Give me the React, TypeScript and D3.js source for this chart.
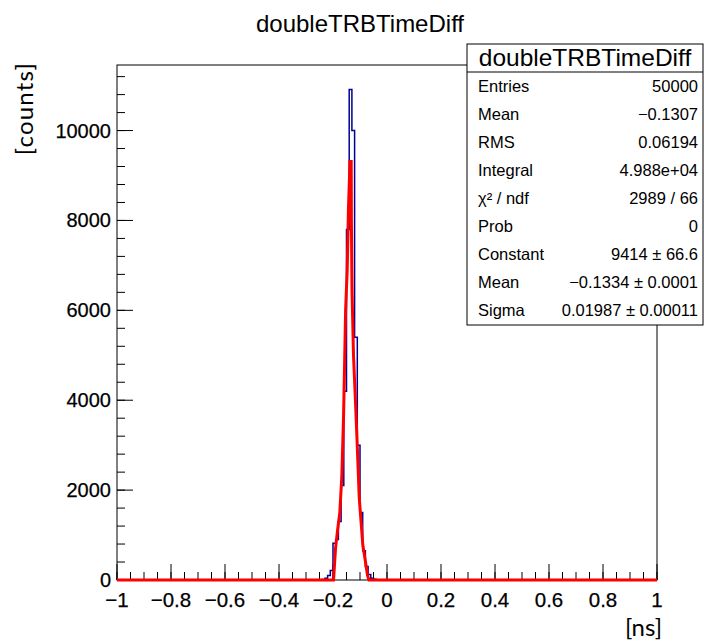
import React from "react";
import * as d3 from "d3";

// ---- data ----
const binLowEdges = [-0.25, -0.24, -0.23, -0.22, -0.21, -0.2, -0.19, -0.18, -0.17, -0.16, -0.15, -0.14, -0.13, -0.12, -0.11, -0.1, -0.09, -0.08, -0.07, -0.06, -0.05, -0.04];
const binCounts = [3, 10, 40, 100, 210, 820, 900, 1300, 2100, 4200, 7800, 10913, 10000, 5400, 3000, 1500, 650, 300, 120, 40, 15, 3];

const fitX = [-1, -0.205, -0.198, -0.1907, -0.1833, -0.1748, -0.1674, -0.1611, -0.1574, -0.1533, -0.1474, -0.1426, -0.137, -0.1326, -0.1319, -0.1296, -0.1241, -0.1156, -0.1119, -0.103, -0.0896, -0.0796, -0.0722, -0.0667, 1];
const fitY = [0, 0, 0, 700, 1100, 1500, 2300, 3600, 4700, 6000, 6900, 8300, 9310, 9310, 8000, 6435, 5000, 3800, 3255, 1849, 777, 400, 100, 0, 0];

const xMajorTicks = [-1, -0.8, -0.6, -0.4, -0.2, 0, 0.2, 0.4, 0.6, 0.8, 1];
const yMajorTicks = [0, 2000, 4000, 6000, 8000, 10000];

const statsTitle = "doubleTRBTimeDiff";
const statsLabels = ["Entries", "Mean", "RMS", "Integral", "χ² / ndf", "Prob", "Constant", "Mean", "Sigma"];
const statsValues = ["50000", "−0.1307", "0.06194", "4.988e+04", "2989 / 66", "0", "9414 ± 66.6", "−0.1334 ± 0.0001", "0.01987 ± 0.00011"];

const title = "doubleTRBTimeDiff";
const xTitle = "[ns]";
const yTitle = "[counts]";

// ---- layout ----
const W = 704, H = 641;
const FL = 117, FR = 657, FT = 65, FB = 580;
const NB = 200, XMIN = -1, XMAX = 1, BW = (XMAX - XMIN) / NB;
const FONT = "'Liberation Sans', Arial, Helvetica, sans-serif";
const TFONT = "Lato, 'Open Sans', sans-serif";

export default function App() {
  const counts: number[] = new Array(NB).fill(0);
  binLowEdges.forEach((e, i) => {
    const k = Math.round((e - XMIN) / BW);
    counts[k] = binCounts[i];
  });
  const yMax = (d3.max(counts) as number) * 1.05;

  const x = d3.scaleLinear().domain([XMIN, XMAX]).range([FL, FR]);
  const y = d3.scaleLinear().domain([0, yMax]).range([FB, FT]);

  const histPts: [number, number][] = counts.map((c, i) => [XMIN + i * BW, c]);
  histPts.push([XMAX, counts[NB - 1]]);
  const histPath = d3
    .line<[number, number]>()
    .x((d) => x(d[0]))
    .y((d) => y(d[1]))
    .curve(d3.curveStepAfter)(histPts) as string;

  const fitPts: [number, number][] = fitX.map((v, i) => [v, fitY[i]]);
  const fitPath = d3
    .line<[number, number]>()
    .x((d) => x(d[0]))
    .y((d) => y(d[1]))(fitPts) as string;

  const xMinor = d3.range(0, 41).map((i) => XMIN + i * 0.05);
  const yMinor = d3.range(0, Math.floor(yMax / 400) + 1).map((i) => i * 400);
  const fmtX = (v: number) => d3.format("~g")(Math.round(v * 100) / 100);

  const MAJ = 16, MIN = 8;

  // stats box
  const SBX = 467, SBY = 44, SBW = 236, SBH = 281, SBSEP = 72;
  const rowH = (SBY + SBH - SBSEP) / statsLabels.length;

  return (
    <svg width={W} height={H} style={{ position: "absolute", left: 0, top: 0, background: "#fff" }}>
      <rect x={0} y={0} width={W} height={H} fill="#fff" />
      {/* frame */}
      <rect x={FL} y={FT} width={FR - FL} height={FB - FT} fill="#fff" stroke="#000" strokeWidth={1} />

      {/* x ticks */}
      {xMinor.map((v, i) => (
        <line key={"xm" + i} x1={x(v)} x2={x(v)} y1={FB} y2={FB - MIN} stroke="#000" strokeWidth={1} />
      ))}
      {xMajorTicks.map((v, i) => (
        <g key={"xM" + i}>
          <line x1={x(v)} x2={x(v)} y1={FB} y2={FB - MAJ} stroke="#000" strokeWidth={1} />
          <text x={x(v)} y={FB + 27} textAnchor="middle" fontFamily={FONT} fontSize={20.5} fill="#000" stroke="#000" strokeWidth={0.25}>
            {fmtX(v)}
          </text>
        </g>
      ))}

      {/* y ticks */}
      {yMinor.map((v, i) => (
        <line key={"ym" + i} x1={FL} x2={FL + MIN} y1={y(v)} y2={y(v)} stroke="#000" strokeWidth={1} />
      ))}
      {yMajorTicks.map((v, i) => (
        <g key={"yM" + i}>
          <line x1={FL} x2={FL + MAJ} y1={y(v)} y2={y(v)} stroke="#000" strokeWidth={1} />
          <text x={FL - 6} y={y(v) + 7} textAnchor="end" fontFamily={FONT} fontSize={20} fill="#000" stroke="#000" strokeWidth={0.25}>
            {d3.format("d")(v)}
          </text>
        </g>
      ))}

      {/* histogram */}
      <path d={histPath} fill="none" stroke="#000099" strokeWidth={1.5} />
      {/* fit */}
      <path d={fitPath} fill="none" stroke="#ff0000" strokeWidth={3} strokeLinejoin="miter" />

      {/* titles */}
      <text x={360} y={32} textAnchor="middle" fontFamily={FONT} fontSize={24} fill="#000">
        {title}
      </text>
      <text x={662} y={636} textAnchor="end" fontFamily={TFONT} fontSize={24} fill="#000">
        {xTitle}
      </text>
      <text
        transform={`translate(33,62) rotate(-90)`}
        textAnchor="end"
        fontFamily={TFONT}
        fontSize={24}
        letterSpacing={1.2}
        fill="#000"
      >
        {yTitle}
      </text>

      {/* stats box */}
      <rect x={SBX} y={SBY} width={SBW} height={SBH} fill="#fff" stroke="#000" strokeWidth={1} />
      <line x1={SBX} x2={SBX + SBW} y1={SBSEP} y2={SBSEP} stroke="#000" strokeWidth={1} />
      <text x={SBX + SBW / 2} y={66} textAnchor="middle" fontFamily={FONT} fontSize={24.5} fill="#000">
        {statsTitle}
      </text>
      {statsLabels.map((lab, i) => {
        const cy = SBSEP + rowH * (i + 0.5);
        return (
          <g key={"st" + i}>
            <text x={SBX + 11} y={cy + 5.5} fontFamily={FONT} fontSize={16.5} fill="#000">
              {lab}
            </text>
            <text x={SBX + SBW - 5} y={cy + 5.5} textAnchor="end" fontFamily={FONT} fontSize={16.5} fill="#000">
              {statsValues[i]}
            </text>
          </g>
        );
      })}
    </svg>
  );
}
